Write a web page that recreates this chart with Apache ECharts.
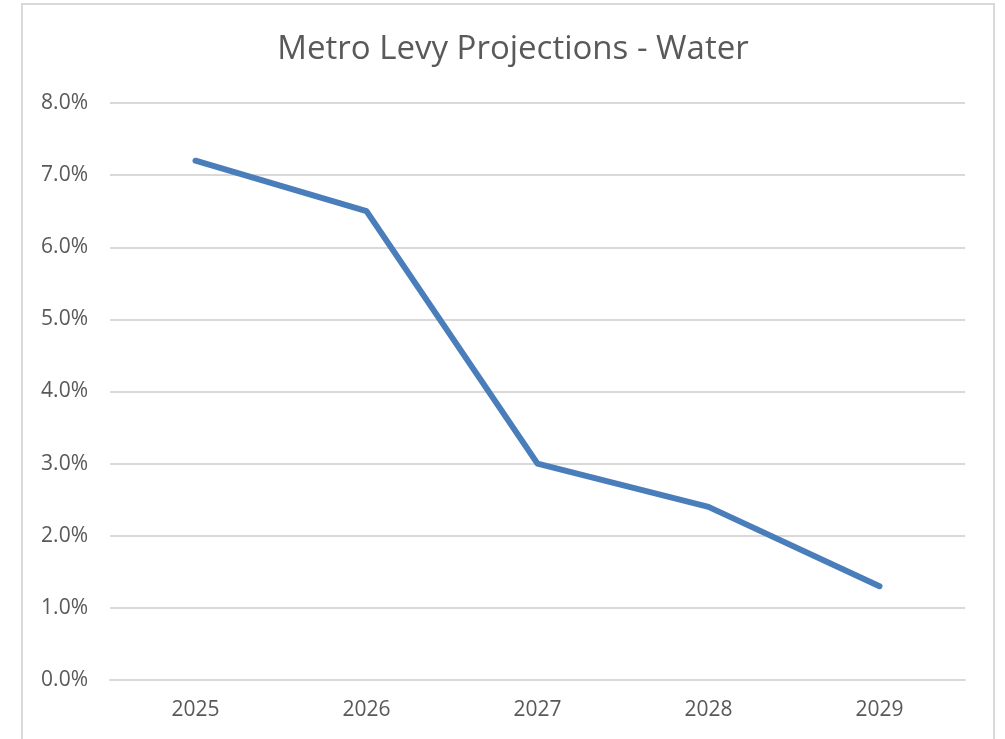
<!DOCTYPE html>
<html>
<head>
<meta charset="utf-8">
<script src="https://cdn.jsdelivr.net/npm/echarts@6/dist/echarts.min.js"></script>
<style>
  html, body { margin: 0; padding: 0; background: #fff; }
  #chart { width: 1005px; height: 739px; }
</style>
</head>
<body>
<div id="chart"></div>
<script>
// data
var years = ["2025", "2026", "2027", "2028", "2029"];
var levyWater = [7.2, 6.5, 3.0, 2.4, 1.3];

var TEXT = "#595959";
var FONT = "Open Sans";

var chart = echarts.init(document.getElementById("chart"));
chart.setOption({
    animation: false,
    graphic: [{
        type: "rect", silent: true,
        shape: { x: 22, y: 4, width: 972, height: 760 },
        style: { fill: "none", stroke: "#d9d9d9", lineWidth: 2 },
    }],
    title: {
        text: "Metro Levy Projections - Water", left: 508, top: 28, textAlign: "center",
        textStyle: { color: TEXT, fontFamily: FONT, fontSize: 33, fontWeight: "normal" },
    },
    grid: { left: 110, right: 40, top: 103, bottom: 59, containLabel: false },
    xAxis: {
        type: "category", data: years, boundaryGap: true,
        axisLine: { show: true, lineStyle: { color: "#d9d9d9", width: 2 } },
        axisTick: { show: false },
        axisLabel: { color: TEXT, fontFamily: FONT, fontSize: 21, margin: 20 },
    },
    yAxis: {
        type: "value", min: 0, max: 8, interval: 1,
        axisLine: { show: false }, axisTick: { show: false },
        axisLabel: { color: TEXT, fontFamily: FONT, fontSize: 21, margin: 22,
            formatter: function(v) { return v.toFixed(1) + "%"; } },
        splitLine: { lineStyle: { color: "#d9d9d9", width: 2 } },
    },
    series: [{
        type: "line", data: levyWater, symbol: "none",
        lineStyle: { color: "#4a7ebb", width: 6, cap: "round", join: "round" },
    }],
});
</script>
</body>
</html>
